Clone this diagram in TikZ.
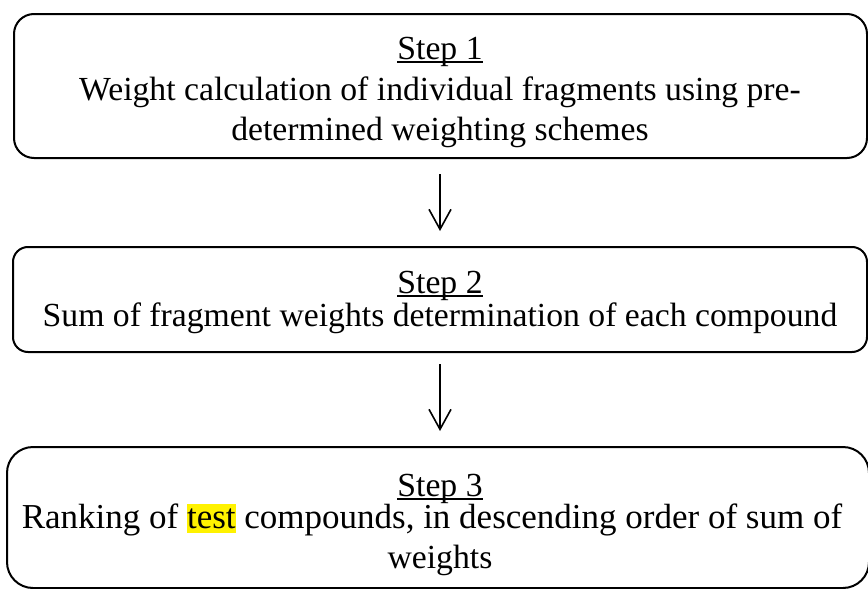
\documentclass[tikz,border=0pt]{standalone}
\usepackage{fontspec}
\setmainfont{Liberation Serif}
\usetikzlibrary{arrows.meta}
\newcommand\myul[1]{\setbox0\hbox{#1}\rlap{\rule[-3.5pt]{\wd0}{1.6pt}}\box0}
\newcommand\myhl[1]{{\setlength\fboxsep{0pt}\colorbox{yellow}{\rule[-5pt]{0pt}{29pt}#1}}}
\begin{document}
\begin{tikzpicture}[x=1pt,y=1pt,
  stepbox/.style={draw, line width=2pt, inner sep=0pt},
  txt/.style={anchor=base, inner sep=0pt, font=\fontsize{33.7}{40}\selectfont},
  flow/.style={-{Straight Barb[length=20pt,width=22pt,line width=1.6pt]}, line width=1.6pt}]
\useasboundingbox (0,0) rectangle (868,-589);
% boxes
\node[stepbox, rounded corners=20pt, minimum width=853pt, minimum height=144pt] (s1) at (440.5,-86) {};
\node[stepbox, rounded corners=15pt, minimum width=854pt, minimum height=105pt] (s2) at (440,-299.5) {};
\node[stepbox, rounded corners=26pt, minimum width=862pt, minimum height=141pt] (s3) at (438,-517.5) {};
% texts
\node[txt] (t1a) at (440,-59) {\myul{Step 1}};
\node[txt] (t1b) at (440,-100) {Weight calculation of individual fragments using pre-};
\node[txt] (t1c) at (440,-140) {determined weighting schemes};
\node[txt] (t2a) at (440,-293) {\myul{Step 2}};
\node[txt] (t2b) at (440,-326) {Sum of fragment weights determination of each compound};
\node[txt] (t3a) at (440,-496) {\myul{Step 3}};
\node[txt, font=\fontsize{35}{40}\selectfont] (t3b) at (432,-528) {Ranking of \myhl{test} compounds, in descending order of sum of};
\node[txt] (t3c) at (440,-568) {weights};
% arrows
\draw[flow, shorten <=15pt, shorten >=15pt] (s1.south -| s2.north) -- (s2.north);
\draw[flow, shorten <=11pt, shorten >=15pt] (s2.south) -- (s2.south |- s3.north);
\end{tikzpicture}
\end{document}
